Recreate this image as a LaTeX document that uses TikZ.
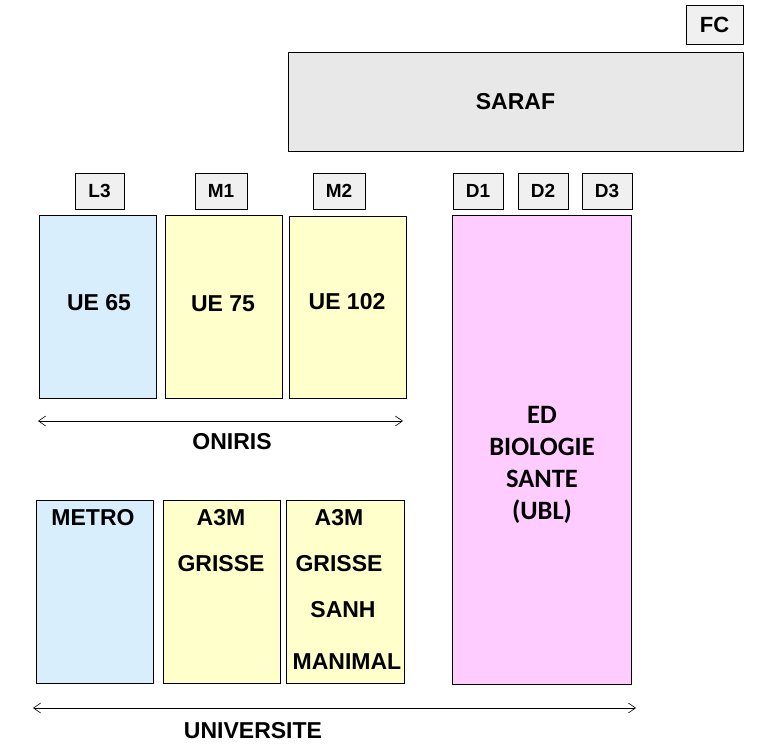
\documentclass[tikz,border=0pt]{standalone}
\usepackage{fontspec}
\setmainfont{Liberation Sans}
\newfontfamily\edfont{Carlito}
\usetikzlibrary{positioning,arrows.meta}
\definecolor{paleblue}{HTML}{D9EEFC}
\definecolor{paleyellow}{HTML}{FFFFCC}
\definecolor{palepink}{HTML}{FFCCFF}
\definecolor{boxgray}{HTML}{F0F0F0}
\definecolor{bandgray}{HTML}{E8E8E8}
\tikzset{
  lvl/.style={draw, fill=boxgray, line width=0.8pt, minimum height=36, inner sep=0pt,
              font=\fontsize{19}{21}\selectfont\bfseries},
  block/.style={draw, line width=0.8pt, inner sep=0pt, font=\fontsize{23}{27}\selectfont\bfseries},
  txt/.style={font=\fontsize{23}{27}\selectfont\bfseries, inner sep=0pt},
  span/.style={line width=0.6pt, {Straight Barb[length=2.5mm, width=3.5mm]}-{Straight Barb[length=2.5mm, width=3.5mm]}},
}
\begin{document}
\begin{tikzpicture}[x=1pt, y=-1pt]
  \useasboundingbox (0,0) rectangle (766,746);
  % top band
  \node[lvl, minimum width=57, minimum height=39, font=\fontsize{22}{24}\selectfont\bfseries] (fc) at (714.5,24.5) {FC};
  \node[block, fill=bandgray, minimum width=455, minimum height=99] (saraf) at (515.5,101.5) {SARAF};
  % levels
  \node[lvl, minimum width=49] (l3) at (99.5,191) {L3};
  \node[lvl, minimum width=52] (m1) at (221,191) {M1};
  \node[lvl, minimum width=52] (m2) at (339,191) {M2};
  \node[lvl, minimum width=50] (d1) at (478,191) {D1};
  \node[lvl, minimum width=50] (d2) at (543,191) {D2};
  \node[lvl, minimum width=50] (d3) at (607,191) {D3};
  % oniris
  \node[block, fill=paleblue, minimum width=117, minimum height=183] (ue65) at (97.5,306.5) {};
  \node[block, fill=paleyellow, minimum width=117, minimum height=183] (ue75) at (223.5,306.5) {};
  \node[block, fill=paleyellow, minimum width=117, minimum height=182] (ue102) at (347.5,307) {};
  \node[txt] (ue65t) at (99,303) {UE 65};
  \node[txt] (ue75t) at (223,304) {UE 75};
  \node[txt] (ue102t) at (347,302) {UE 102};
  \coordinate (oL) at (38,421);
  \coordinate (oR) at (403,421);
  \draw[span] (oL) -- (oR);
  \node[txt] (oniris) at (232,442) {ONIRIS};
  % doctoral school
  \node[block, fill=palepink, minimum width=179, minimum height=469] (ed) at (541.5,449.5) {};
  \node[txt, align=center, font=\edfont\bfseries\fontsize{26.5}{32}\selectfont] (edt) at (542,465) {ED\\BIOLOGIE\\SANTE\\(UBL)};
  % universite
  \node[block, fill=paleblue, minimum width=117, minimum height=183] (metro) at (94.5,591.5) {};
  \node[block, fill=paleyellow, minimum width=117, minimum height=183] (mast) at (221.5,591.5) {};
  \node[block, fill=paleyellow, minimum width=118, minimum height=183] (mastb) at (345,591.5) {};
  \node[txt] at (93,518) {METRO};
  \node[txt] at (221,518) {A3M};
  \node[txt] at (221,564) {GRISSE};
  \node[txt] at (339,518) {A3M};
  \node[txt] at (339,564) {GRISSE};
  \node[txt] at (343,610) {SANH};
  \node[txt] at (347,662) {MANIMAL};
  \coordinate (uL) at (33,708);
  \coordinate (uR) at (636,708);
  \draw[span] (uL) -- (uR);
  \node[txt] (univ) at (253,731) {UNIVERSITE};
\end{tikzpicture}
\end{document}
